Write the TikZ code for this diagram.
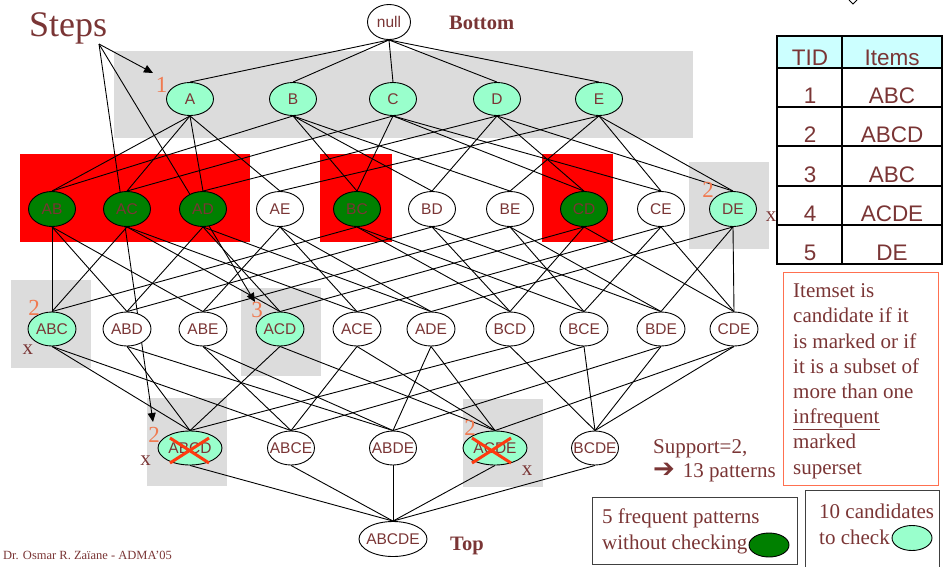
\documentclass[tikz,border=0pt]{standalone}
\usepackage{fontspec}
\setmainfont{Liberation Serif}
\newfontfamily\sansf{Liberation Sans}
\newfontfamily\symf{DejaVu Sans}
\usetikzlibrary{arrows.meta,shapes.geometric}
\definecolor{ink}{HTML}{7A3535}
\definecolor{mint}{HTML}{99FFCC}
\definecolor{leaf}{HTML}{008000}
\definecolor{shade}{HTML}{DCDCDC}
\definecolor{mark}{HTML}{F07A50}
\definecolor{cross}{HTML}{FF3A10}
\definecolor{head}{HTML}{CCFFFF}
\definecolor{note}{HTML}{FF7050}
\definecolor{frame}{HTML}{404040}
\pgfdeclarelayer{bg}
\pgfsetlayers{bg,main}
\begin{document}
\begin{tikzpicture}[x=1pt,y=-1pt,
  set/.style={ellipse,draw=black,line width=0.9pt,fill=white,inner xsep=-12pt,inner ysep=0pt,
    minimum width=47pt,minimum height=34pt,text=ink,font=\sansf\fontsize{15.5}{15.5}\selectfont},
  quad/.style={set,minimum width=64pt},
  cand/.style={fill=mint},
  freq/.style={fill=leaf},
  edge/.style={line width=0.9pt,black},
  pointer/.style={line width=0.9pt,black,-{Triangle[length=9pt,width=8pt]}},
  pass/.style={fill=shade,draw=none},
  prune/.style={fill=red,draw=none},
  num/.style={text=mark,font=\fontsize{23}{23}\selectfont,inner sep=0pt},
  xmark/.style={text=ink,font=\fontsize{21}{21}\selectfont,inner sep=0pt},
  strike/.style={cross,line width=3pt},
  prose/.style={text=ink,font=\fontsize{21}{25.2}\selectfont,inner sep=0pt},
  cell/.style={text=ink,font=\sansf\fontsize{22.5}{22.5}\selectfont,inner sep=0pt,anchor=base},
  rule/.style={line width=1.6pt,black}
]
\useasboundingbox (0,0) rectangle (951,566);

% ---------- lattice nodes ----------
\node[set,minimum width=43pt,minimum height=35pt] (n0) at (389,22) {null};

\foreach \n/\x in {A/190,B/293,C/393,D/497,E/599}
  \node[set,cand,minimum height=33pt] (\n) at (\x,99) {\n};

\foreach \n/\x/\s in {AB/52/freq,AC/127/freq,AD/203/freq,AE/280/set,BC/357/freq,
                      BD/432/set,BE/510/set,CD/584/freq,CE/661/set,DE/733/cand}
  \node[set,\s,minimum height=35pt] (\n) at (\x,209) {\n};

\foreach \n/\x/\s in {ABC/52/cand,ABD/127/set,ABE/203/set,ACD/280/cand,ACE/357/set,
                      ADE/431/set,BCD/510/set,BCE/584/set,BDE/661/set,CDE/734/set}
  \node[set,\s,minimum width=48pt] (\n) at (\x,329) {\n};

\foreach \n/\x/\s in {ABCD/190/cand,ABCE/291/set,ABDE/393/set,ACDE/495/cand,BCDE/595/set}
  \node[quad,\s] (\n) at (\x,448) {\n};

\node[set,minimum width=68pt,minimum height=35pt] (all) at (393,539) {ABCDE};

% ---------- shaded groups, edges and step pointers (behind the nodes) ----------
\coordinate (s0) at (99,44);
\coordinate (s1) at (153,73);
\coordinate (s2) at (255,302);
\coordinate (s3) at (153,422);
\begin{pgfonlayer}{bg}
  \fill[pass] (114,51) rectangle (693,138);
  \fill[pass] (689,162) rectangle (769,249);
  \fill[pass] (11,280) rectangle (91,368);
  \fill[pass] (241,288) rectangle (321,376);
  \fill[pass] (147,398) rectangle (227,486);
  \fill[pass] (463,399) rectangle (543,487);
  \fill[prune] (20,154) rectangle (250,242);
  \fill[prune] (320,154) rectangle (392,242);
  \fill[prune] (542,154) rectangle (613,242);
  \foreach \u/\l in {n0/A,n0/B,n0/C,n0/D,n0/E,
      A/AB,A/AC,A/AD,A/AE,B/AB,B/BC,B/BD,B/BE,C/AC,C/BC,C/CD,C/CE,
      D/AD,D/BD,D/CD,D/DE,E/AE,E/BE,E/CE,E/DE,
      AB/ABC,AB/ABD,AB/ABE,AC/ABC,AC/ACD,AC/ACE,AD/ABD,AD/ACD,AD/ADE,
      AE/ABE,AE/ACE,AE/ADE,BC/ABC,BC/BCD,BC/BCE,BD/ABD,BD/BCD,BD/BDE,
      BE/ABE,BE/BCE,BE/BDE,CD/ACD,CD/BCD,CD/CDE,CE/ACE,CE/BCE,CE/CDE,
      DE/ADE,DE/BDE,DE/CDE,
      ABC/ABCD,ABC/ABCE,ABD/ABCD,ABD/ABDE,ABE/ABCE,ABE/ABDE,ACD/ABCD,ACD/ACDE,
      ACE/ABCE,ACE/ACDE,ADE/ABDE,ADE/ACDE,BCD/ABCD,BCD/BCDE,BCE/ABCE,BCE/BCDE,
      BDE/ABDE,BDE/BCDE,CDE/ACDE,CDE/BCDE,
      ABCD/all,ABCE/all,ABDE/all,ACDE/all,BCDE/all}
    \draw[edge] (\u.south) -- (\l.north);
  \draw[pointer] (s0) -- (s1);
  \draw[pointer] (s0) -- (s2);
  \draw[pointer] (s0) -- (s3);
\end{pgfonlayer}

% ---------- crossed-out candidates ----------
\draw[strike] (170,438) -- (209,463) (170,463) -- (209,438);
\draw[strike] (472,438) -- (511,463) (472,463) -- (511,438);

% ---------- step numbers and marks ----------
\node[num] (k1) at (161.5,85) {1};
\node[num] (k2) at (708,190) {2};
\node[num] (k3) at (34,308) {2};
\node[num] (k4) at (257,310) {3};
\node[num] (k5) at (154,435) {2};
\node[num] (k6) at (470,428) {2};
\node[xmark] (x1) at (771,217) {x};
\node[xmark] (x2) at (28,350) {x};
\node[xmark] (x3) at (145.5,461) {x};
\node[xmark] (x4) at (527,471) {x};

% ---------- titles ----------
\node[text=ink,font=\fontsize{36}{36}\selectfont,inner sep=0pt,anchor=base west] (steps) at (29,36) {Steps};
\node[text=ink,font=\bfseries\fontsize{20.5}{20.5}\selectfont,inner sep=0pt,anchor=base west] (bottom) at (449,29) {Bottom};
\node[text=ink,font=\bfseries\fontsize{20.5}{20.5}\selectfont,inner sep=0pt,anchor=base west] (topl) at (450,550) {Top};
\node[text=ink,font=\fontsize{12.5}{12.5}\selectfont,inner sep=0pt,anchor=base west] (credit) at (3,559) {Dr. Osmar R. Zaïane - ADMA’05};
\draw[line width=1pt] (849,0) -- (853,4) -- (857,0);

% ---------- transaction table ----------
\fill[head] (777,36) rectangle (942,68);
\draw[rule] (777,36) rectangle (942,264);
\draw[rule] (842,36) -- (842,264);
\foreach \y in {68,107,146,186,225}
  \draw[rule] (777,\y) -- (942,\y);
\node[cell] (th1) at (810,65) {TID};
\node[cell] (th2) at (892,65) {Items};
\foreach \t/\i/\y in {1/ABC/103,2/ABCD/142,3/ABC/182,4/ACDE/221,5/DE/260}{
  \node[cell] (tid\t) at (810,\y) {\t};
  \node[cell] (itm\t) at (892,\y) {\i};
}

% ---------- notes ----------
\node[draw=note,line width=1.2pt,minimum width=155pt,minimum height=213pt,anchor=north west,inner sep=0pt] (rulebox) at (783,272) {};
\node[prose,anchor=north west,align=left] (ruletext) at (793,283.5)
  {Itemset is\\candidate if it\\is marked or if\\it is a subset of\\more than one\\\underline{infrequent}\\marked\\superset};

\node[prose,anchor=base west] (sup1) at (653,453) {Support=2,};
\node[prose,anchor=base west] (sup2) at (653,477) {{\symf\bfseries\fontsize{26}{26}\selectfont ➔}\hspace{8pt}13 patterns};

\node[draw=frame,line width=1.2pt,minimum width=205pt,minimum height=67pt,anchor=north west,inner sep=0pt] (fbox) at (592,497) {};
\node[prose,anchor=base west] (f1) at (602,523) {5 frequent patterns};
\node[prose,anchor=base west] (f2) at (602,549) {without checking};
\node[ellipse,draw=black,line width=0.9pt,fill=leaf,minimum width=40pt,minimum height=24pt,inner sep=0pt] (fkey) at (769,545) {};

\node[draw=frame,line width=1.2pt,minimum width=134pt,minimum height=79pt,anchor=north west,inner sep=0pt] (cbox) at (805,490) {};
\node[prose,anchor=base west] (c1) at (819,518) {10 candidates};
\node[prose,anchor=base west] (c2) at (819,544) {to check};
\node[ellipse,draw=black,line width=0.9pt,fill=mint,minimum width=40pt,minimum height=25pt,inner sep=0pt] (ckey) at (912,538) {};
\end{tikzpicture}
\end{document}
